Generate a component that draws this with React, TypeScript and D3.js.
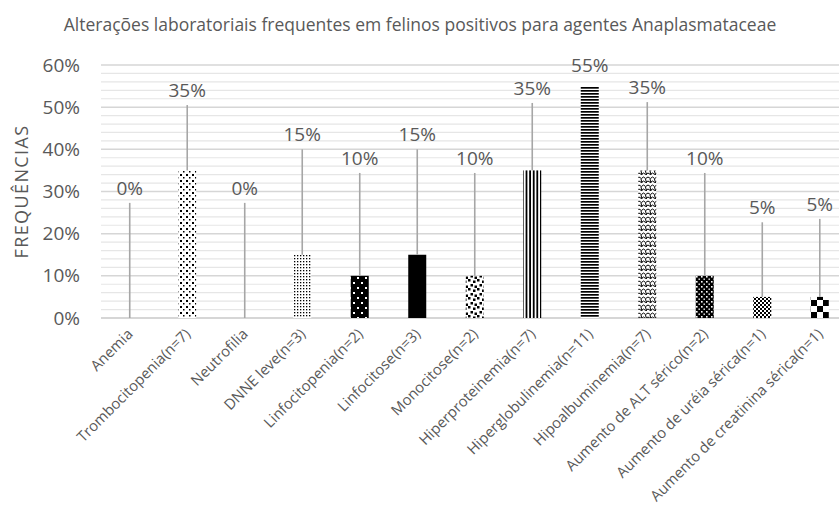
import React from "react";
import * as d3 from "d3";

const categories = [
  "Anemia",
  "Trombocitopenia(n=7)",
  "Neutrofilia",
  "DNNE leve(n=3)",
  "Linfocitopenia(n=2)",
  "Linfocitose(n=3)",
  "Monocitose(n=2)",
  "Hiperproteinemia(n=7)",
  "Hiperglobulinemia(n=11)",
  "Hipoalbuminemia(n=7)",
  "Aumento de ALT sérico(n=2)",
  "Aumento de uréia sérica(n=1)",
  "Aumento de creatinina sérica(n=1)",
];
const values = [0, 35, 0, 15, 10, 15, 10, 35, 55, 35, 10, 5, 5];
// where each data label's leader line ends (in % units, manually placed labels)
const labelAt = [27.3, 50.5, 27.3, 40, 34.4, 40, 34.4, 51, 56.5, 51.2, 34.4, 22.7, 23.5];
const patternIds = ["p0", "p1", "p2", "p3", "p4", "p5", "p6", "p7", "p8", "p9", "p10", "p11", "p12"];
const yTicks = [0, 10, 20, 30, 40, 50, 60];
const title = "Alterações laboratoriais frequentes em felinos positivos para agentes Anaplasmataceae";
const yTitle = "FREQUÊNCIAS";

const W = 839;
const H = 514;
const left = 101;
const band = 57.5;
const y0 = 318;
const yTop = 65;
const TEXT = "#595959";
const FONT = "'Open Sans', sans-serif";

export default function App() {
  const x = d3
    .scaleBand<string>()
    .domain(categories)
    .range([left, left + band * categories.length])
    .paddingInner(0.687)
    .paddingOuter(0.343);
  const y = d3.scaleLinear().domain([0, 60]).range([y0, yTop]);
  const minor = d3.range(0, 61, 2).filter((v) => v % 10 !== 0);
  const bw = 18;

  return (
    <svg
      width={W}
      height={H}
      style={{ position: "absolute", left: 0, top: 0, background: "#fff" }}
      fontFamily={FONT}
    >
      <defs>
        <pattern id="p1" width="6" height="6" patternUnits="userSpaceOnUse">
          <rect width="6" height="6" fill="#fff" />
          <rect x="0" y="0" width="2" height="2" fill="#000" />
          <rect x="3" y="3" width="1.5" height="1.5" fill="#000" />
        </pattern>
        <pattern id="p3" width="3" height="3" patternUnits="userSpaceOnUse">
          <rect width="3" height="3" fill="#fff" />
          <rect x="0" y="0" width="1.3" height="1.3" fill="#000" />
        </pattern>
        <pattern id="p4" width="8" height="10" patternUnits="userSpaceOnUse">
          <rect width="8" height="10" fill="#000" />
          <rect x="1" y="2" width="2" height="2" fill="#fff" />
          <rect x="5" y="7" width="2" height="2" fill="#fff" />
        </pattern>
        <pattern id="p5" width="4" height="4" patternUnits="userSpaceOnUse">
          <rect width="4" height="4" fill="#000" />
        </pattern>
        <pattern id="p6" width="9" height="9" patternUnits="userSpaceOnUse">
          <rect width="9" height="9" fill="#fff" />
          <rect x="0" y="0" width="2.5" height="2.5" fill="#000" />
          <rect x="5" y="1.5" width="2.5" height="2.5" fill="#000" />
          <rect x="2.5" y="5" width="2.5" height="2.5" fill="#000" />
          <rect x="6.5" y="6.5" width="2.5" height="2.5" fill="#000" />
        </pattern>
        <pattern id="p7" width="3.6" height="4" patternUnits="userSpaceOnUse">
          <rect width="3.6" height="4" fill="#fff" />
          <rect x="0" y="0" width="1.8" height="4" fill="#000" />
        </pattern>
        <pattern id="p8" width="4" height="3" patternUnits="userSpaceOnUse">
          <rect width="4" height="3" fill="#fff" />
          <rect x="0" y="0" width="4" height="1.7" fill="#000" />
        </pattern>
        <pattern id="p9" width="9" height="8" patternUnits="userSpaceOnUse">
          <rect width="9" height="8" fill="#fff" />
          <path d="M0,1 Q2.5,4 4.5,1 M4.5,1 Q6.5,4 9,1 M0,5 Q2.5,8 4.5,5 M4.5,5 Q6.5,8 9,5 M2,3 L3,7 M6.5,3 L7.5,7" stroke="#000" strokeWidth="1" fill="none" />
        </pattern>
        <pattern id="p10" width="5" height="5" patternUnits="userSpaceOnUse">
          <rect width="5" height="5" fill="#000" />
          <rect x="1" y="1" width="1.6" height="1.6" fill="#fff" />
          <rect x="3.5" y="3.5" width="1.4" height="1.4" fill="#fff" />
        </pattern>
        <pattern id="p11" width="4" height="4" patternUnits="userSpaceOnUse">
          <rect width="4" height="4" fill="#fff" />
          <rect x="0" y="0" width="2" height="2" fill="#000" />
          <rect x="2" y="2" width="2" height="2" fill="#000" />
        </pattern>
        <pattern id="p12" width="12" height="12" patternUnits="userSpaceOnUse" x="811" y="300">
          <rect width="12" height="12" fill="#fff" />
          <rect x="0" y="0" width="6" height="6" fill="#000" />
          <rect x="6" y="6" width="6" height="6" fill="#000" />
        </pattern>
      </defs>

      <text x={420} y={31} textAnchor="middle" fontSize={17.5} fill={TEXT}>
        {title}
      </text>

      {minor.map((v) => (
        <line key={"m" + v} x1={left} x2={W} y1={y(v)} y2={y(v)} stroke="#e6e6e6" strokeWidth={1.2} />
      ))}
      {yTicks.map((v) => (
        <g key={"t" + v}>
          <line x1={left} x2={W} y1={y(v)} y2={y(v)} stroke={v === 0 ? "#c8c8c8" : "#d6d6d6"} strokeWidth={1.5} />
          <text x={80} y={y(v) + 6.5} textAnchor="end" fontSize={19} fill={TEXT}>
            {v}%
          </text>
        </g>
      ))}

      <text
        transform={`translate(28,${(y0 + yTop) / 2}) rotate(-90)`}
        textAnchor="middle"
        fontSize={18}
        letterSpacing={1.4}
        fill={TEXT}
      >
        {yTitle}
      </text>

      {categories.map((c, i) => {
        const cx = (x(c) as number) + x.bandwidth() / 2;
        const top = y(values[i]);
        const lt = y(labelAt[i]);
        return (
          <g key={c}>
            {values[i] > 0 && (
              <rect x={cx - bw / 2} y={top} width={bw} height={y0 - top} fill={`url(#${patternIds[i]})`} />
            )}
            {top - lt > 10 && (
              <line x1={cx} x2={cx} y1={top} y2={lt} stroke="#a6a6a6" strokeWidth={1.6} />
            )}
            <text x={cx} y={lt - 8} textAnchor="middle" fontSize={19} fill={TEXT}>
              {values[i]}%
            </text>
            <text
              transform={`translate(${cx + 4},${y0 + 17}) rotate(-45)`}
              textAnchor="end"
              fontSize={14.8}
              fill={TEXT}
            >
              {c}
            </text>
          </g>
        );
      })}
    </svg>
  );
}
